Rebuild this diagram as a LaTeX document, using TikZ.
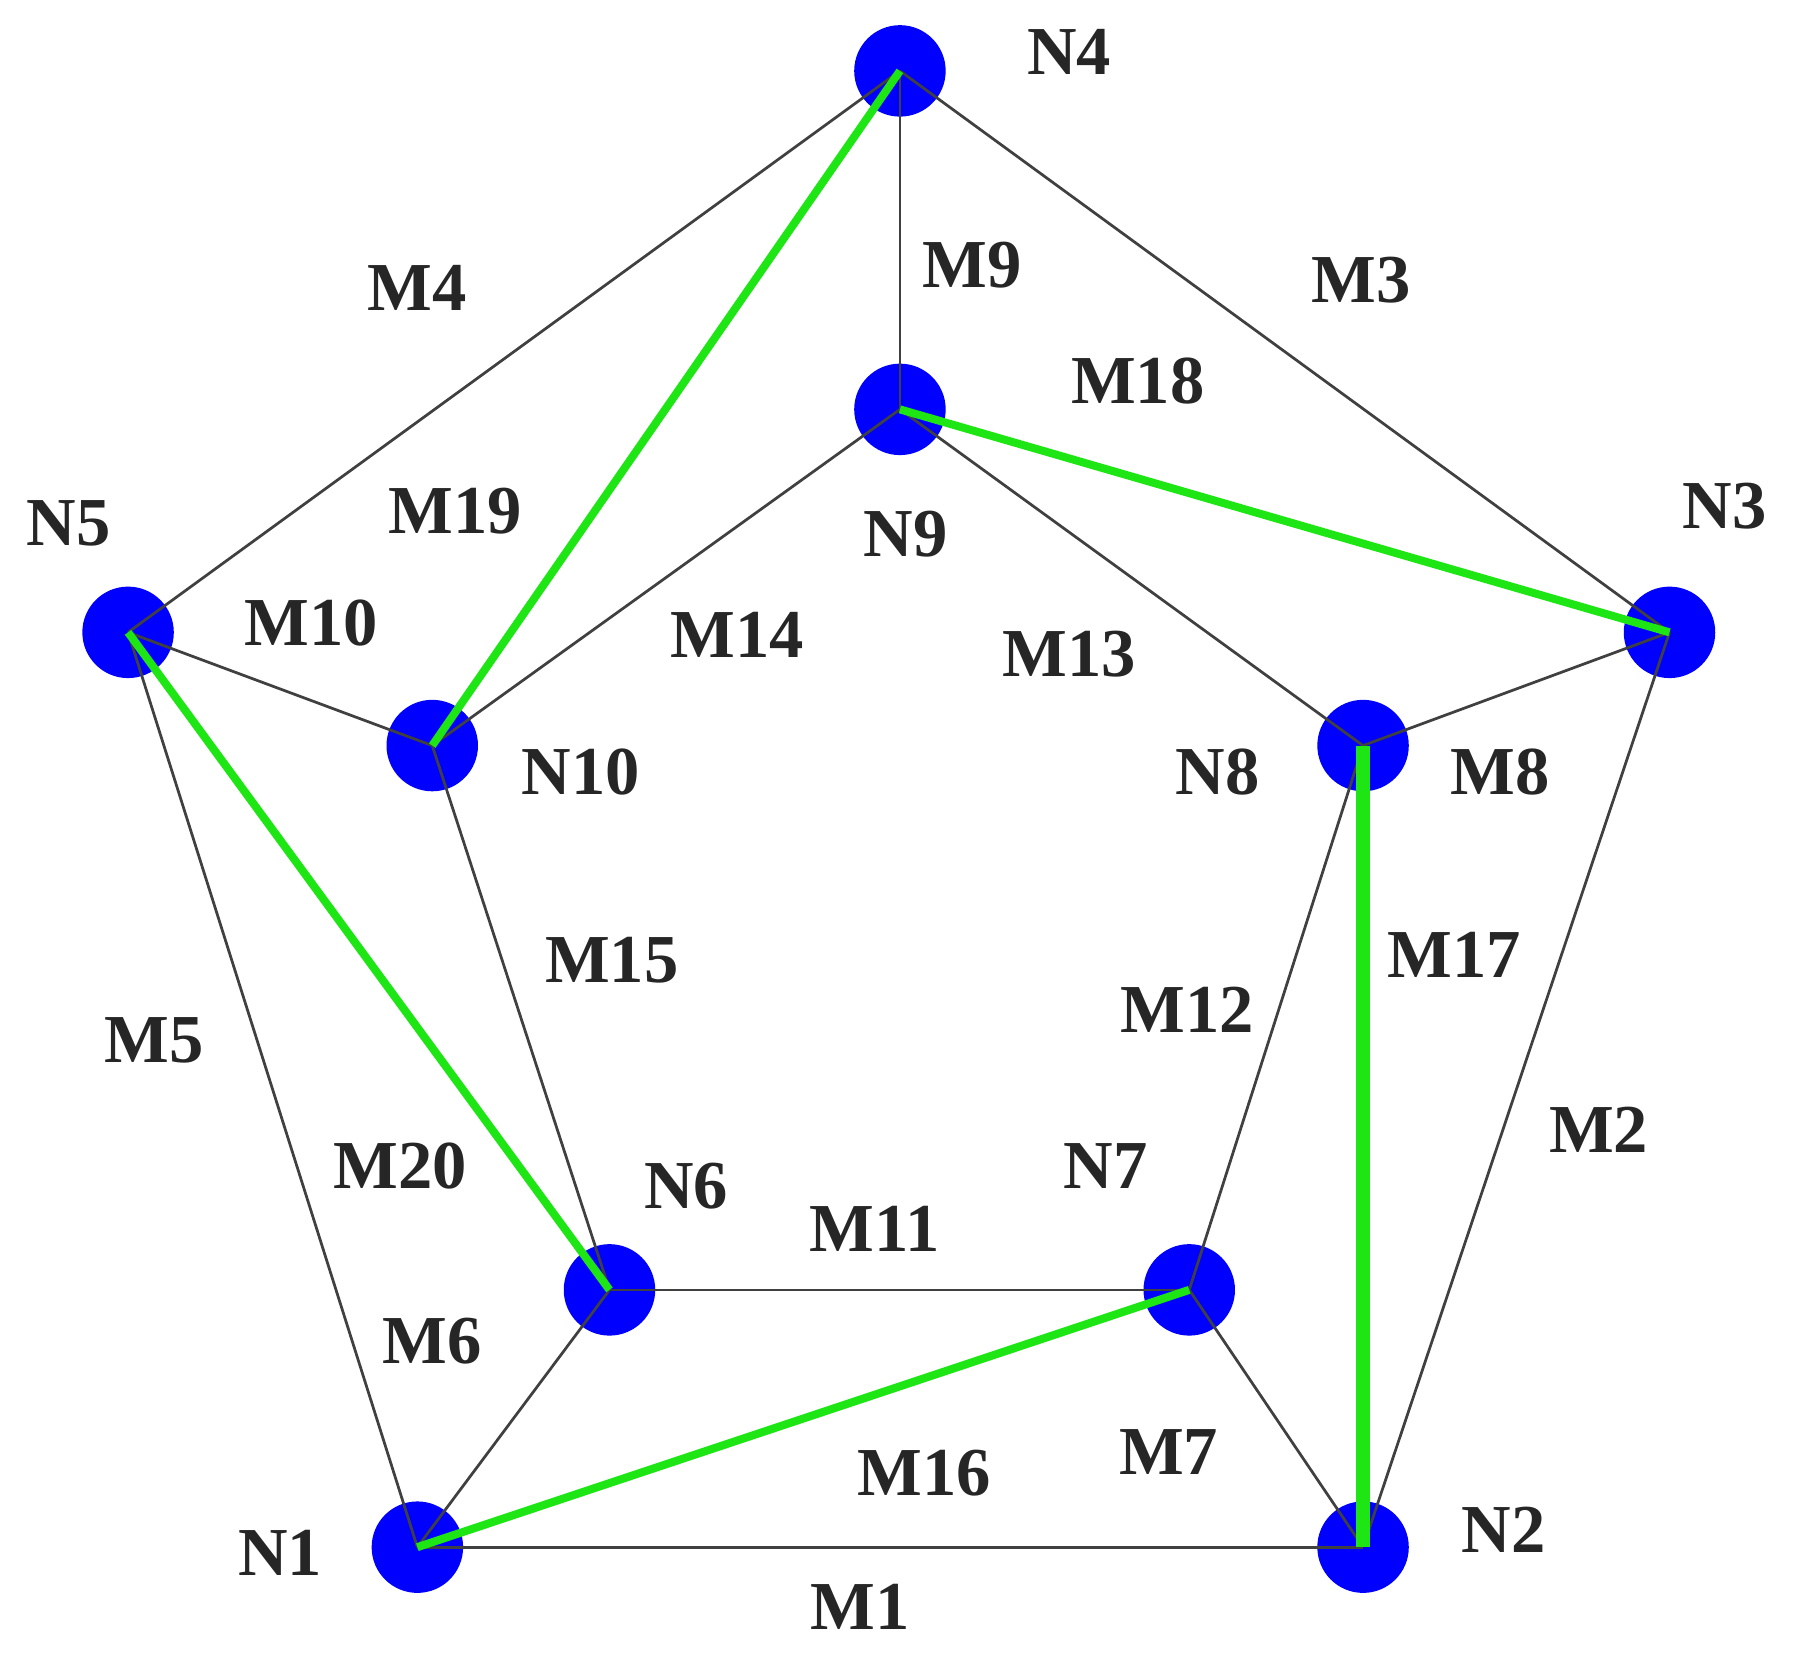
\documentclass[tikz,border=0pt]{standalone}
\usepackage{fontspec}
\setmainfont{Liberation Serif}
\definecolor{hlgreen}{RGB}{30,230,20}
\begin{document}
\begin{tikzpicture}[x=0.5pt,y=-0.5pt,
 vert/.style={circle,fill=blue,minimum size=40pt,inner sep=0pt},
 edge/.style={draw=black!75,line width=1.2pt},
 hl/.style={draw=hlgreen,line width=3.5pt},
 lbl/.style={font=\fontsize{30}{32}\selectfont\bfseries,text=black!85}]
\useasboundingbox (0,0) rectangle (1568,1461);
\foreach \n/\x/\y in {N4/787/62,N9/787/358,N5/112/553,N10/378/652,N3/1460/553,N8/1192/652,N6/533/1128,N7/1040/1128,N1/365/1353,N2/1192/1353}
  \node[vert] (\n) at (\x,\y) {};
\foreach \a/\b in {N1/N2,N2/N3,N3/N4,N4/N5,N5/N1,N6/N7,N7/N8,N8/N9,N9/N10,N10/N6,N1/N6,N2/N7,N3/N8,N4/N9,N5/N10}
  \draw[edge] (\a.center) -- (\b.center);
\foreach \a/\b in {N4/N10,N9/N3,N5/N6,N7/N1}
  \draw[hl] (\a.center) -- (\b.center);
\draw[hl,line width=6pt] (N8.center) -- (N2.center);
\foreach \t/\x/\y in {N4/935/45,M9/850/232,M3/1190/245,M4/365/252,M18/995/333,N5/60/458,M19/398/447,N9/792/467,N3/1508/443,M10/272/545,M14/645/555,M13/935/572,N10/508/675,N8/1065/675,M8/1312/675,M15/535/840,M17/1272/835,M12/1038/883,M5/135/910,M2/1398/988,M20/350/1020,N6/600/1037,N7/967/1020,M11/765/1075,M6/378/1173,M7/1022/1270,M16/808/1288,N1/245/1358,N2/1315/1338,M1/752/1405}
  \node[lbl] (L\t) at (\x,\y) {\t};
\end{tikzpicture}
\end{document}
